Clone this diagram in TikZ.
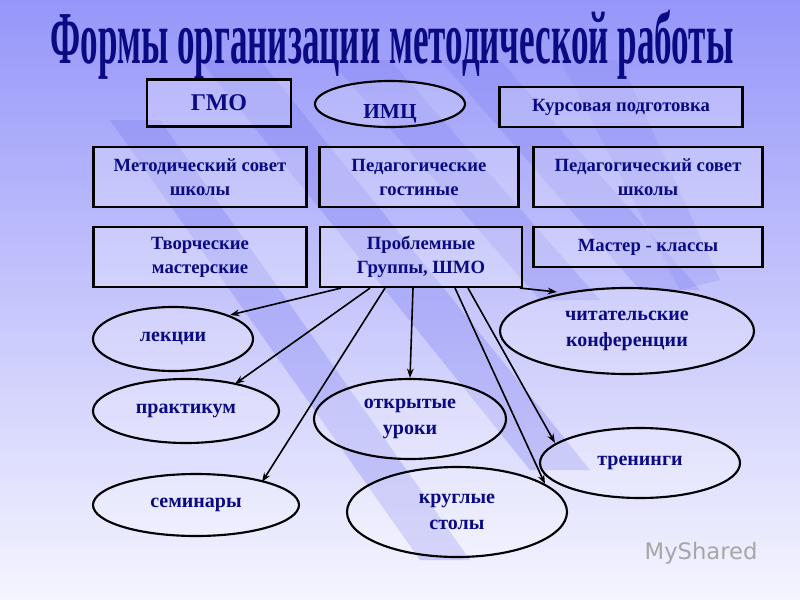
\documentclass[tikz,border=0pt]{standalone}
\usepackage{fontspec}
\setmainfont{Liberation Serif}
\setsansfont{DejaVu Sans}
\usetikzlibrary{shapes.geometric,arrows.meta}
\definecolor{txtblue}{RGB}{10,10,130}
\definecolor{bgtop}{RGB}{150,150,250}
\definecolor{bgbot}{RGB}{245,245,255}
\definecolor{band}{RGB}{120,120,240}
\tikzset{
  box/.style={draw,line width=1.6pt,fill=white,fill opacity=0.25,text opacity=1,text=txtblue,font=\bfseries\fontsize{14}{18}\selectfont,align=center,inner sep=0pt},
  oval/.style={draw,ellipse,line width=1.6pt,fill=white,fill opacity=0.2,text opacity=1,text=txtblue,font=\bfseries\fontsize{15}{19}\selectfont,align=center,inner sep=0pt},
  link/.style={-{Stealth[length=7pt,width=5pt]},line width=1.2pt}
}
\begin{document}
\begin{tikzpicture}[x=0.75pt,y=-0.75pt]
\useasboundingbox (0,0) rectangle (800,600);
\shade[top color=bgtop,bottom color=bgbot] (0,0) rectangle (800,600);
% diagonal bands
\fill[band,opacity=0.3] (110,120) -- (160,120) -- (470,560) -- (420,560) -- cycle;
\fill[band,opacity=0.3] (200,60) -- (260,60) -- (590,470) -- (530,470) -- cycle;
\fill[band,opacity=0.25] (330,60) -- (390,60) -- (600,300) -- (540,300) -- cycle;
\fill[band,opacity=0.25] (440,60) -- (500,60) -- (700,290) -- (640,290) -- cycle;
\fill[band,opacity=0.2] (560,60) -- (620,60) -- (720,280) -- (680,290) -- cycle;
% title
\node[text=txtblue,font=\bfseries\fontsize{56}{56}\selectfont] (title) at (392,45)
  {\scalebox{0.47}[1]{Формы организации методической работы}};
% top rows
\node[box,minimum width=144pt*0.75,minimum height=47pt*0.75,font=\bfseries\fontsize{18}{20}\selectfont] (gmo) at (219,103) {ГМО};
\node[oval,minimum width=150pt*0.75,minimum height=46pt*0.75,font=\bfseries\fontsize{16}{18}\selectfont] (imc) at (390,104) {\raisebox{-11pt}[0pt][0pt]{ИМЦ}};
\node[box,minimum width=243pt*0.75,minimum height=40pt*0.75] (kurs) at (621,107) {Курсовая подготовка};
\node[box,minimum width=213pt*0.75,minimum height=60pt*0.75] (msov) at (200,177) {Методический совет\\школы};
\node[box,minimum width=199pt*0.75,minimum height=60pt*0.75] (pgost) at (419,177) {Педагогические\\гостиные};
\node[box,minimum width=229pt*0.75,minimum height=60pt*0.75] (psov) at (648,177) {Педагогический совет\\школы};
\node[box,minimum width=213pt*0.75,minimum height=60pt*0.75] (tvor) at (200,257) {Творческие\\мастерские};
\node[box,minimum width=202pt*0.75,minimum height=60pt*0.75] (prob) at (421,257) {Проблемные\\Группы, ШМО};
\node[box,minimum width=229pt*0.75,minimum height=40pt*0.75] (master) at (648,247) {Мастер - классы};
% ovals
\node[oval,minimum width=160pt*0.75,minimum height=64pt*0.75] (lek) at (173,339) {лекции};
\node[oval,minimum width=186pt*0.75,minimum height=64pt*0.75] (prak) at (186,411) {практикум};
\node[oval,minimum width=206pt*0.75,minimum height=62pt*0.75] (sem) at (196,505) {семинары};
\node[oval,minimum width=192pt*0.75,minimum height=80pt*0.75] (otkr) at (410,419) {открытые\\уроки};
\node[oval,minimum width=220pt*0.75,minimum height=90pt*0.75] (krug) at (457,512) {круглые\\столы};
\node[oval,minimum width=254pt*0.75,minimum height=86pt*0.75] (chit) at (627,331) {читательские\\конференции};
\node[oval,minimum width=200pt*0.75,minimum height=70pt*0.75] (tren) at (640,463) {тренинги};
% connectors
\draw[link] ([shift={(-80,0)}]prob.south) -- ([shift={(57,-24)}]lek.center);
\draw[link] ([shift={(-51,0)}]prob.south) -- ([shift={(49,-27)}]prak.center);
\draw[link] ([shift={(-36,0)}]prob.south) -- ([shift={(66,-23)}]sem.center);
\draw[link] ([shift={(-8,0)}]prob.south) -- (otkr.north);
\draw[link] ([shift={(34,0)}]prob.south) -- ([shift={(88,-28)}]krug.center);
\draw[link] ([shift={(47,0)}]prob.south) -- ([shift={(-85,-20)}]tren.center);
\draw[link] ([shift={(99,0)}]prob.south) -- ([shift={(-70,-39)}]chit.center);
% watermark
\node[text=gray!70,font=\sffamily\fontsize{17}{17}\selectfont,anchor=west] (mark) at (640,553) {MyShared};
\end{tikzpicture}
\end{document}
